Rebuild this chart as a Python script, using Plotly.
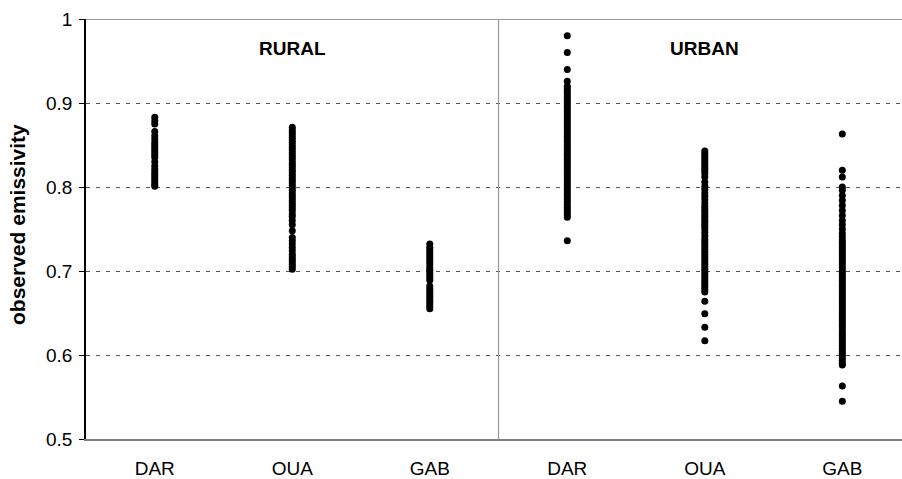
import plotly.graph_objects as go

categories = ["DAR", "OUA", "GAB", "DAR", "OUA", "GAB"]
group_labels = ["RURAL", "URBAN"]
y_ticks = [0.5, 0.6, 0.7, 0.8, 0.9, 1.0]
y_ticktext = ["0.5", "0.6", "0.7", "0.8", "0.9", "1"]

rural_dar = [0.883, 0.879, 0.875, 0.866, 0.861, 0.857, 0.853, 0.850, 0.847, 0.844,
             0.841, 0.838, 0.835, 0.830, 0.825, 0.821, 0.818, 0.815, 0.812, 0.809,
             0.806, 0.803, 0.801]
rural_oua = [0.871, 0.868, 0.865, 0.862, 0.859, 0.856, 0.853, 0.850, 0.847, 0.844,
             0.841, 0.838, 0.835, 0.832, 0.829, 0.826, 0.823, 0.820, 0.817, 0.814,
             0.811, 0.808, 0.805, 0.802, 0.799, 0.796, 0.793, 0.790, 0.787, 0.784,
             0.781, 0.778, 0.775, 0.772, 0.768, 0.765, 0.760, 0.755, 0.748, 0.740,
             0.736, 0.732, 0.728, 0.724, 0.720, 0.717, 0.714, 0.711, 0.708, 0.705,
             0.702]
rural_gab = [0.732, 0.728, 0.725, 0.722, 0.719, 0.716, 0.713, 0.710, 0.707, 0.704,
             0.701, 0.698, 0.695, 0.692, 0.689, 0.682, 0.679, 0.676, 0.673, 0.670,
             0.667, 0.664, 0.661, 0.658, 0.655]
urban_dar = [0.980, 0.960, 0.940, 0.926, 0.920, 0.917, 0.914, 0.911, 0.908, 0.905,
             0.902, 0.899, 0.896, 0.893, 0.890, 0.887, 0.884, 0.881, 0.878, 0.875,
             0.872, 0.869, 0.866, 0.863, 0.860, 0.857, 0.854, 0.851, 0.848, 0.845,
             0.842, 0.839, 0.836, 0.833, 0.830, 0.827, 0.824, 0.821, 0.818, 0.815,
             0.812, 0.809, 0.806, 0.803, 0.800, 0.797, 0.794, 0.791, 0.788, 0.785,
             0.782, 0.779, 0.776, 0.773, 0.770, 0.767, 0.764, 0.736]
urban_oua = [0.843, 0.840, 0.837, 0.834, 0.831, 0.828, 0.825, 0.822, 0.819, 0.816,
             0.812, 0.806, 0.801, 0.797, 0.793, 0.789, 0.785, 0.781, 0.777, 0.774,
             0.771, 0.768, 0.765, 0.762, 0.759, 0.756, 0.753, 0.750, 0.746, 0.742,
             0.738, 0.735, 0.732, 0.729, 0.726, 0.723, 0.720, 0.717, 0.714, 0.711,
             0.708, 0.705, 0.702, 0.699, 0.696, 0.693, 0.690, 0.687, 0.684, 0.681,
             0.678, 0.675, 0.664, 0.649, 0.633, 0.617]
urban_gab = [0.863, 0.820, 0.812, 0.800, 0.796, 0.790, 0.784, 0.778, 0.772, 0.766,
             0.760, 0.755, 0.750, 0.745, 0.741, 0.737, 0.734, 0.731, 0.728, 0.725,
             0.722, 0.719, 0.716, 0.713, 0.710, 0.707, 0.704, 0.701, 0.698, 0.695,
             0.692, 0.689, 0.686, 0.683, 0.680, 0.677, 0.674, 0.671, 0.668, 0.665,
             0.662, 0.659, 0.656, 0.653, 0.650, 0.647, 0.644, 0.641, 0.638, 0.635,
             0.632, 0.629, 0.626, 0.623, 0.620, 0.617, 0.614, 0.611, 0.608, 0.605,
             0.602, 0.599, 0.596, 0.593, 0.590, 0.588, 0.563, 0.545]

series = [rural_dar, rural_oua, rural_gab, urban_dar, urban_oua, urban_gab]

FONT = "Liberation Sans, Arial, sans-serif"

fig = go.Figure()
for i, vals in enumerate(series):
    fig.add_trace(go.Scatter(
        x=[i] * len(vals), y=vals, mode="markers",
        marker=dict(color="black", size=7, line=dict(width=0)),
        showlegend=False, hoverinfo="y"))

fig.update_layout(
    width=902, height=479,
    margin=dict(l=86, r=0, t=19, b=35),
    paper_bgcolor="white", plot_bgcolor="white",
    font=dict(family=FONT, color="black", size=19),
    xaxis=dict(range=[-0.5, 5.434], tickvals=list(range(6)), ticktext=categories,
               showgrid=False, zeroline=False, showline=True, linecolor="#808080",
               linewidth=1.5, ticks="", ticklabelstandoff=11,
               tickfont=dict(size=19, family=FONT)),
    yaxis=dict(range=[0.5, 1.0], tickvals=y_ticks, ticktext=y_ticktext,
               showgrid=True, gridcolor="#555555", griddash="4px,6px", gridwidth=1,
               zeroline=False, showline=True, linecolor="black", linewidth=1.5,
               ticks="outside", ticklen=5, tickcolor="black", ticklabelstandoff=3,
               tickfont=dict(size=19, family=FONT)),
)

# top border line and rural/urban divider
fig.add_shape(type="line", xref="paper", yref="y", x0=0, x1=1, y0=1.0, y1=1.0,
              line=dict(color="#7a7a7a", width=1.5))
fig.add_shape(type="line", xref="x", yref="y", x0=2.5, x1=2.5, y0=0.5, y1=1.0,
              line=dict(color="#999999", width=1.2))

fig.add_annotation(x=1, y=0.965, xref="x", yref="y", text="<b>" + group_labels[0] + "</b>",
                   showarrow=False, font=dict(size=19, family=FONT))
fig.add_annotation(x=4, y=0.965, xref="x", yref="y", text="<b>" + group_labels[1] + "</b>",
                   showarrow=False, font=dict(size=19, family=FONT))

fig.add_annotation(x=0, y=0.5, xref="paper", yref="paper", xanchor="center",
                   yanchor="middle", xshift=-69, yshift=4, textangle=-90,
                   text="<b>observed emissivity</b>", showarrow=False,
                   font=dict(size=21, family=FONT))

fig.write_html("out.html")
